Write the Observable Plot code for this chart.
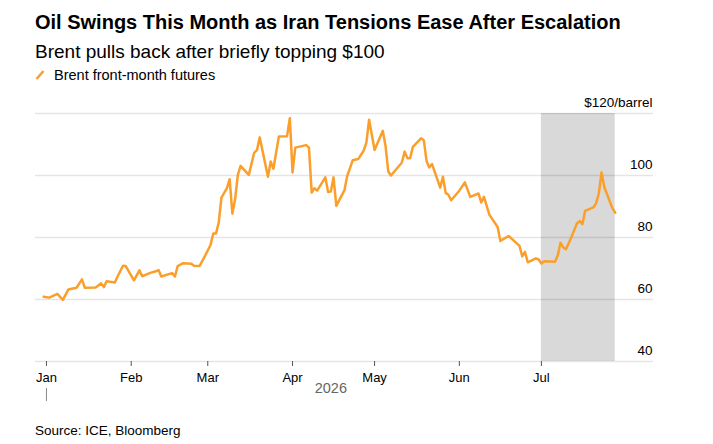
<!DOCTYPE html>
<html>
<head>
<meta charset="utf-8">
<script src="https://cdn.jsdelivr.net/npm/d3@7"></script>
<script src="https://cdn.jsdelivr.net/npm/@observablehq/plot@0.6"></script>
<style>
  html, body { margin: 0; padding: 0; background: #fff; }
  body { width: 713px; height: 444px; position: relative; overflow: hidden;
         font-family: "Liberation Sans", Arial, sans-serif; color: #000; }
  .title { position: absolute; left: 35px; top: 12px; font-size: 20px; line-height: 20px; font-weight: bold; white-space: nowrap; }
  .subtitle { position: absolute; left: 35px; top: 42.2px; font-size: 19px; line-height: 19px; white-space: nowrap; }
  .legend { position: absolute; left: 35px; top: 67.7px; font-size: 14.5px; line-height: 14.5px; white-space: nowrap; display: flex; align-items: center; }
  .legend svg { margin-right: 9px; }
  .source { position: absolute; left: 35px; top: 424.3px; font-size: 13.5px; line-height: 13.5px; white-space: nowrap; }
  #chart { position: absolute; left: 0; top: 88px; }
</style>
</head>
<body>
<div class="title">Oil Swings This Month as Iran Tensions Ease After Escalation</div>
<div class="subtitle">Brent pulls back after briefly topping $100</div>
<div class="legend"><svg width="10" height="10" viewBox="0 0 10 10"><line x1="1.5" y1="9" x2="8.5" y2="1" stroke="#fa9f2c" stroke-width="2.5"/></svg>Brent front-month futures</div>
<div id="chart"></div>
<div class="source">Source: ICE, Bloomberg</div>
<script>
// Brent front-month settlement prices, $/barrel
const tradeDates = [
  "2025-12-31","2026-01-02","2026-01-05","2026-01-07","2026-01-09","2026-01-12","2026-01-14","2026-01-15",
  "2026-01-19","2026-01-21","2026-01-22","2026-01-23","2026-01-26","2026-01-27","2026-01-29","2026-01-30",
  "2026-02-02","2026-02-04","2026-02-05","2026-02-08","2026-02-10","2026-02-11","2026-02-12","2026-02-16",
  "2026-02-17","2026-02-18","2026-02-20","2026-02-23","2026-02-24","2026-02-26","2026-02-28","2026-03-02",
  "2026-03-03","2026-03-04","2026-03-05","2026-03-06","2026-03-08","2026-03-09","2026-03-10","2026-03-11",
  "2026-03-12","2026-03-13","2026-03-16","2026-03-18","2026-03-19","2026-03-20","2026-03-23","2026-03-24",
  "2026-03-25","2026-03-27","2026-03-30","2026-03-31","2026-04-01","2026-04-02","2026-04-06","2026-04-07",
  "2026-04-08","2026-04-09","2026-04-10","2026-04-13","2026-04-14","2026-04-15","2026-04-16","2026-04-17",
  "2026-04-20","2026-04-21","2026-04-23","2026-04-25","2026-04-27","2026-04-28","2026-04-29","2026-05-01",
  "2026-05-04","2026-05-05","2026-05-06","2026-05-07","2026-05-11","2026-05-12","2026-05-13","2026-05-14",
  "2026-05-15","2026-05-18","2026-05-19","2026-05-20","2026-05-21","2026-05-22","2026-05-25","2026-05-26",
  "2026-05-27","2026-05-28","2026-05-29","2026-06-01","2026-06-03","2026-06-05","2026-06-08","2026-06-09",
  "2026-06-10","2026-06-12","2026-06-15","2026-06-16","2026-06-19","2026-06-23","2026-06-24","2026-06-25",
  "2026-06-26","2026-06-29","2026-06-30","2026-07-01","2026-07-02","2026-07-06","2026-07-07","2026-07-08",
  "2026-07-09","2026-07-10","2026-07-12","2026-07-14","2026-07-15","2026-07-16","2026-07-17","2026-07-20",
  "2026-07-21","2026-07-22","2026-07-23","2026-07-24","2026-07-27","2026-07-28"
];
const brentPrices = [
  60.9, 60.6, 61.8, 59.9, 63.2, 63.8, 66.5, 63.8,
  63.9, 65.2, 64.0, 65.9, 65.5, 67.4, 70.9, 70.8,
  66.2, 69.4, 67.5, 68.6, 69.1, 69.5, 67.4, 68.5,
  67.4, 70.8, 71.7, 71.5, 70.9, 70.8, 74.1, 77.6,
  81.3, 81.3, 84.8, 92.9, 95.9, 98.8, 87.7, 92.4,
  100.2, 103.1, 100.2, 107.4, 108.2, 112.3, 99.6, 104.5,
  102.2, 112.6, 112.7, 118.5, 101.0, 109.0, 109.8, 109.0,
  94.5, 95.9, 95.1, 99.4, 94.7, 94.8, 99.4, 90.2,
  95.3, 99.9, 104.9, 105.3, 108.0, 110.6, 118.0, 108.2,
  114.4, 109.6, 101.3, 100.0, 104.2, 107.7, 105.6, 105.6,
  109.2, 112.0, 111.4, 104.7, 102.6, 103.7, 96.1, 99.6,
  94.4, 93.8, 92.0, 95.1, 97.8, 93.1, 94.2, 91.3,
  93.1, 87.3, 83.4, 78.9, 80.5, 77.3, 73.9, 75.4,
  72.0, 73.3, 72.9, 71.6, 72.3, 72.2, 74.3, 78.3,
  76.8, 76.2, 80.2, 84.5, 85.3, 84.3, 88.6, 89.7,
  91.0, 94.2, 101.0, 96.3, 89.4, 88.0
];

// Shaded window: the current month
const highlightStart = "2026-07-01";
const highlightEnd = "2026-07-28";

// Axis ticks
const monthTicks = ["2026-01-01","2026-02-01","2026-03-01","2026-04-01","2026-05-01","2026-06-01","2026-07-01"];
const yearStart = "2026-01-01";
const yearLabel = "2026";
const yTicks = [40, 60, 80, 100, 120];
const yTickLabels = ["40", "60", "80", "100", "$120/barrel"];

const xDomain = ["2025-12-28", "2026-08-11"];

const series = tradeDates.map((d, i) => ({date: new Date(d), price: brentPrices[i]}));
const yLabelOf = new Map(yTicks.map((t, i) => [t, yTickLabels[i]]));
const lastDate = series[series.length - 1].date;
const yearMid = new Date((new Date(yearStart).getTime() + lastDate.getTime()) / 2);

const orange = "#fa9f2c";

const chart = Plot.plot({
  width: 713,
  height: 330,
  marginTop: 25,
  marginBottom: 57,
  marginLeft: 35,
  marginRight: 60,
  style: {fontFamily: "'Liberation Sans', Arial, sans-serif", fontSize: "13px", color: "#000", background: "transparent", overflow: "visible"},
  x: {type: "utc", domain: xDomain.map(d => new Date(d))},
  y: {domain: [40, 120]},
  marks: [
    Plot.rect([{start: new Date(highlightStart), end: new Date(highlightEnd)}], {x1: "start", x2: "end", fill: "#d9d9d9"}),
    Plot.gridY(yTicks, {stroke: "#000", strokeOpacity: 0.1, strokeWidth: 1.5}),
    Plot.axisY(yTicks, {
      anchor: "right", tickSize: 0, tickPadding: 0, textAnchor: "end", lineAnchor: "bottom",
      dx: -1, dy: -7, fontSize: 13.5, fill: "#000", label: null,
      tickFormat: d => yLabelOf.get(d)
    }),
    Plot.axisX(monthTicks.map(d => new Date(d)), {
      tickSize: 5, tickPadding: 6, stroke: "#555", fill: "#000", label: null,
      tickFormat: d3.utcFormat("%b")
    }),
    Plot.axisX([new Date(yearStart)], {tickSize: 13, dy: 27, stroke: "#888", fill: "none", label: null}),
    Plot.text([yearLabel], {x: () => yearMid, text: d => d, frameAnchor: "bottom", dy: 31, fill: "#666", fontSize: 14.5}),
    Plot.line(series, {x: "date", y: "price", stroke: orange, strokeWidth: 2.5, strokeLinejoin: "round", strokeLinecap: "round"})
  ]
});
document.getElementById("chart").appendChild(chart);
</script>
</body>
</html>
